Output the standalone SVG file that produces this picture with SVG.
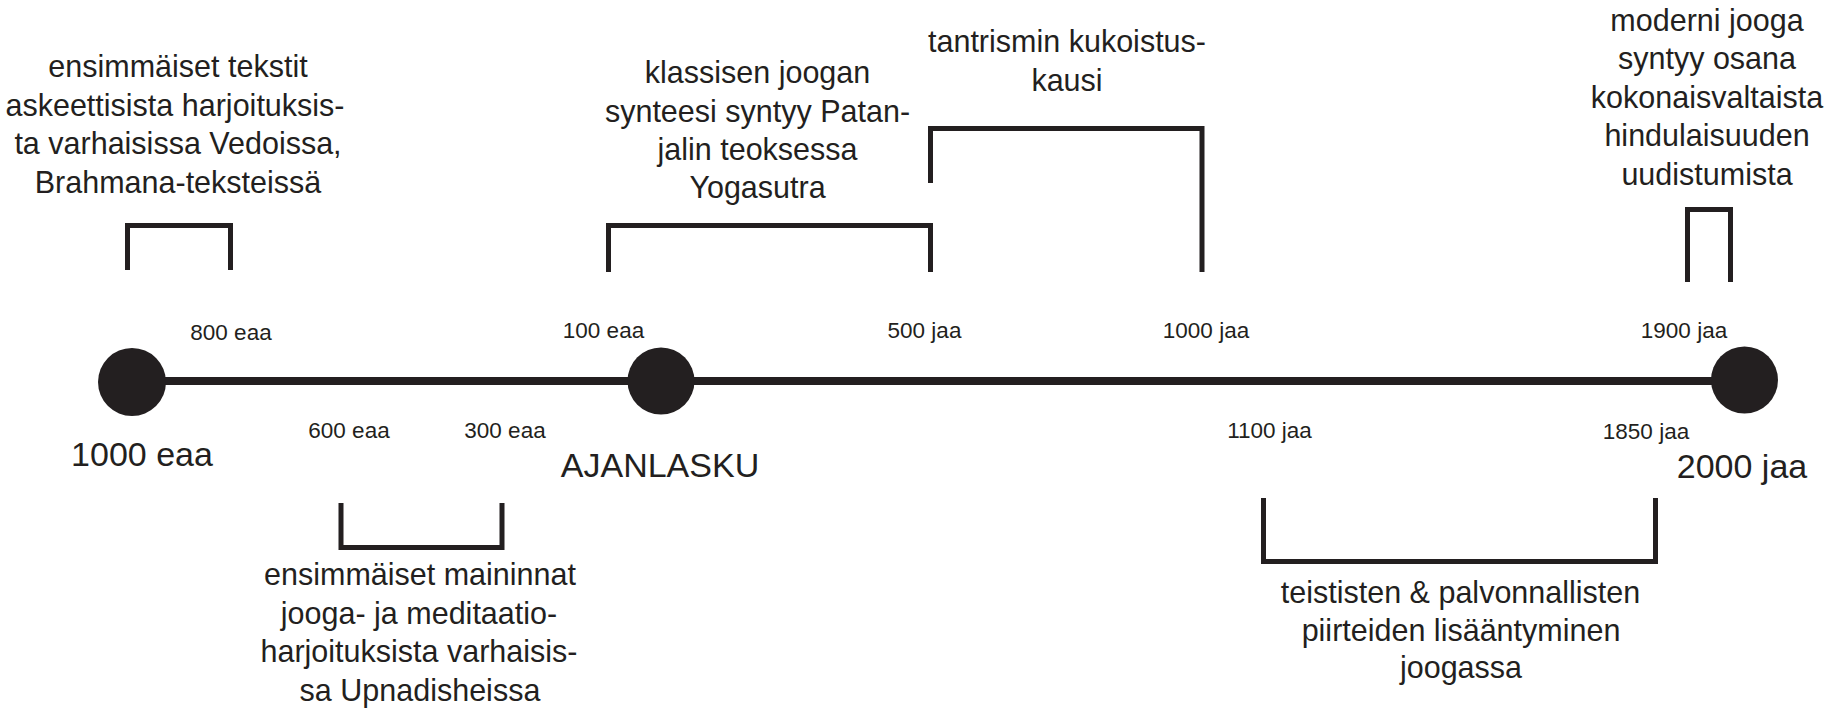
<svg xmlns="http://www.w3.org/2000/svg" width="1838" height="715" viewBox="0 0 1838 715">
  <style>
    .t { font-family: "Liberation Sans", Arial, sans-serif; fill: #231f20; text-anchor: middle; }
    .desc { font-size: 30.5px; }
    .date { font-size: 22.5px; }
    .big { font-size: 34px; }
    .br { fill: none; stroke: #231f20; stroke-width: 5; stroke-linejoin: miter; stroke-linecap: butt; }
    .dot { fill: #231f20; }
  </style>
  <rect width="1838" height="715" fill="#ffffff"/>

  <g id="connectors">
    <line x1="132" y1="381" x2="1744" y2="381" stroke="#231f20" stroke-width="8"/>
  </g>

  <g id="start-1000eaa">
    <circle class="dot" cx="132" cy="382" r="34"/>
    <text class="t big" x="142" y="466">1000 eaa</text>
  </g>
  <g id="ajanlasku">
    <circle class="dot" cx="661" cy="381" r="33.5"/>
    <text class="t big" x="660" y="477">AJANLASKU</text>
  </g>
  <g id="end-2000jaa">
    <circle class="dot" cx="1744.5" cy="380" r="33.5"/>
    <text class="t big" x="1742" y="478">2000 jaa</text>
  </g>

  <g id="dates">
    <text class="t date" x="231" y="340">800 eaa</text>
    <text class="t date" x="603.5" y="338">100 eaa</text>
    <text class="t date" x="924.5" y="338">500 jaa</text>
    <text class="t date" x="1206" y="338">1000 jaa</text>
    <text class="t date" x="1684" y="338">1900 jaa</text>
    <text class="t date" x="349" y="438">600 eaa</text>
    <text class="t date" x="505" y="438">300 eaa</text>
    <text class="t date" x="1269.5" y="438">1100 jaa</text>
    <text class="t date" x="1646" y="439">1850 jaa</text>
  </g>

  <g id="event-vedat">
    <polyline class="br" points="127.5,270 127.5,225.5 230.5,225.5 230.5,270"/>
    <text class="t desc" x="178" y="77">ensimmäiset tekstit</text>
    <text class="t desc" x="175" y="115.5">askeettisista harjoituksis-</text>
    <text class="t desc" x="178" y="154">ta varhaisissa Vedoissa,</text>
    <text class="t desc" x="178" y="192.5">Brahmana-teksteissä</text>
  </g>

  <g id="event-upanishadit">
    <polyline class="br" points="341,503 341,547.5 502,547.5 502,503"/>
    <text class="t desc" x="420" y="585">ensimmäiset maininnat</text>
    <text class="t desc" x="419" y="623.5">jooga- ja meditaatio-</text>
    <text class="t desc" x="419" y="662">harjoituksista varhaisis-</text>
    <text class="t desc" x="420" y="700.5">sa Upnadisheissa</text>
  </g>

  <g id="event-yogasutra">
    <polyline class="br" points="608.5,272 608.5,225.5 930.5,225.5 930.5,272"/>
    <text class="t desc" x="757.5" y="83">klassisen joogan</text>
    <text class="t desc" x="757.5" y="121.5">synteesi syntyy Patan-</text>
    <text class="t desc" x="757.5" y="160">jalin teoksessa</text>
    <text class="t desc" x="757.5" y="198">Yogasutra</text>
  </g>

  <g id="event-tantrismi">
    <polyline class="br" points="930.5,183 930.5,128.5 1202,128.5 1202,272"/>
    <text class="t desc" x="1067" y="52">tantrismin kukoistus-</text>
    <text class="t desc" x="1067" y="90.5">kausi</text>
  </g>

  <g id="event-bhakti">
    <polyline class="br" points="1263.5,498 1263.5,561.5 1655.5,561.5 1655.5,498"/>
    <text class="t desc" x="1460.5" y="603">teististen &amp; palvonnallisten</text>
    <text class="t desc" x="1461" y="640.5">piirteiden lisääntyminen</text>
    <text class="t desc" x="1461" y="678">joogassa</text>
  </g>

  <g id="event-moderni">
    <polyline class="br" points="1687.5,282 1687.5,209.5 1730.5,209.5 1730.5,282"/>
    <text class="t desc" x="1707" y="30.5">moderni jooga</text>
    <text class="t desc" x="1707" y="69">syntyy osana</text>
    <text class="t desc" x="1707" y="107.5">kokonaisvaltaista</text>
    <text class="t desc" x="1707" y="146">hindulaisuuden</text>
    <text class="t desc" x="1707" y="184.5">uudistumista</text>
  </g>
</svg>
